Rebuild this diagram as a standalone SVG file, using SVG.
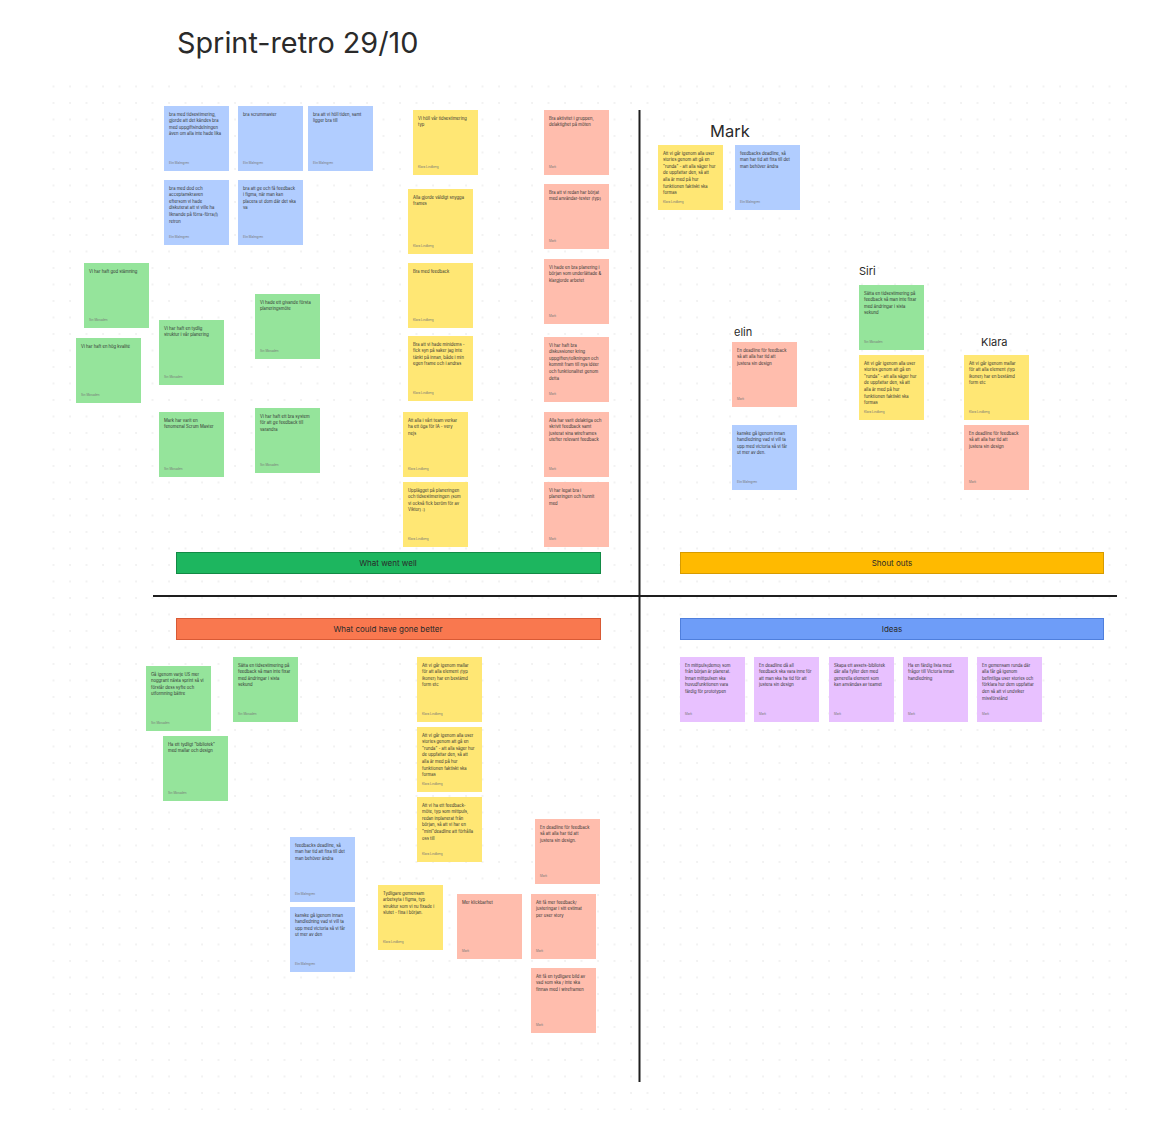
<svg xmlns="http://www.w3.org/2000/svg" width="1155" height="1121" viewBox="0 0 1155 1121">
<defs>
<pattern id="dots" x="3" y="3" width="16.5" height="16.5" patternUnits="userSpaceOnUse">
<circle cx="1" cy="1" r="0.7" fill="#dcdcdc"/>
</pattern>
</defs>
<style>
.b{fill:#B1CDFF}.g{fill:#95E49B}.y{fill:#FFE774}.s{fill:#FFBDAD}.p{fill:#E8C1FF}
.t{font-family:Inter,"Noto Sans",sans-serif;font-size:4.2px;fill:#333333}
.a{font-family:Inter,"Noto Sans",sans-serif;font-size:3px;fill:#777777}
.lbl{font-family:Inter,"Noto Sans",sans-serif;fill:#2a2a2a}
.bar{font-family:Inter,"Noto Sans",sans-serif;font-size:8px;fill:#2a2a2a;text-anchor:middle}
.div{stroke:#1e1e1e;stroke-width:2;fill:none}
</style>
<rect width="1155" height="1121" fill="#ffffff"/>
<rect x="40" y="80" width="1100" height="1030" fill="url(#dots)"/>

<text id="title" class="lbl" x="177" y="53" font-size="28.8">Sprint-retro 29/10</text>

<g id="dividers">
<line class="div" x1="639.5" y1="110" x2="639.5" y2="1082"/>
<line class="div" x1="153" y1="596" x2="1117" y2="596"/>
</g>

<g id="bar-went-well"><rect x="176.5" y="552.5" width="424" height="21" fill="#1DB65F" stroke="#128a45"/><text class="bar" x="388" y="566">What went well</text></g>
<g id="bar-shout-outs"><rect x="680.5" y="552.5" width="423" height="21" fill="#FFBA00" stroke="#d79b00"/><text class="bar" x="892" y="566">Shout outs</text></g>
<g id="bar-better"><rect x="176.5" y="618.5" width="424" height="21" fill="#F9784F" stroke="#d85a35"/><text class="bar" x="388" y="632">What could have gone better</text></g>
<g id="bar-ideas"><rect x="680.5" y="618.5" width="423" height="21" fill="#6E9DF8" stroke="#4f7fdc"/><text class="bar" x="892" y="632">Ideas</text></g>

<!-- What went well -->
<g id="ww-b1" transform="translate(164,106)"><rect class="b" width="65" height="65"/><text class="t" y="9.5"><tspan x="5">bra med tidsestimering,</tspan><tspan x="5" dy="6.6">gjorde att det kändes bra</tspan><tspan x="5" dy="6.6">med uppgiftsindelningen</tspan><tspan x="5" dy="6.6">även om alla inte hade lika</tspan></text><text class="a" x="5" y="57.5">Elin Malmgren</text></g>
<g id="ww-b2" transform="translate(238,106)"><rect class="b" width="65" height="65"/><text class="t" y="9.5"><tspan x="5">bra scrummaster</tspan></text><text class="a" x="5" y="57.5">Elin Malmgren</text></g>
<g id="ww-b3" transform="translate(308,106)"><rect class="b" width="65" height="65"/><text class="t" y="9.5"><tspan x="5">bra att vi höll tiden, samt</tspan><tspan x="5" dy="6.6">ligger bra till</tspan></text><text class="a" x="5" y="57.5">Elin Malmgren</text></g>
<g id="ww-b4" transform="translate(164,180)"><rect class="b" width="65" height="65"/><text class="t" y="9.5"><tspan x="5">bra med dod och</tspan><tspan x="5" dy="6.6">acceptanskraven</tspan><tspan x="5" dy="6.6">eftersom vi hade</tspan><tspan x="5" dy="6.6">diskuterat att vi ville ha</tspan><tspan x="5" dy="6.6">liknande på förra-förra(!)</tspan><tspan x="5" dy="6.6">retron</tspan></text><text class="a" x="5" y="57.5">Elin Malmgren</text></g>
<g id="ww-b5" transform="translate(238,180)"><rect class="b" width="65" height="65"/><text class="t" y="9.5"><tspan x="5">bra att ge och få feedback</tspan><tspan x="5" dy="6.6">i figma, när man kan</tspan><tspan x="5" dy="6.6">placera ut dom där det ska</tspan><tspan x="5" dy="6.6">va</tspan></text><text class="a" x="5" y="57.5">Elin Malmgren</text></g>

<g id="ww-g1" transform="translate(84,263)"><rect class="g" width="65" height="65"/><text class="t" y="9.5"><tspan x="5">Vi har haft god stämning</tspan></text><text class="a" x="5" y="57.5">Siri Mossdén</text></g>
<g id="ww-g2" transform="translate(76,338)"><rect class="g" width="65" height="65"/><text class="t" y="9.5"><tspan x="5">Vi har haft en hög kvalité</tspan></text><text class="a" x="5" y="57.5">Siri Mossdén</text></g>
<g id="ww-g3" transform="translate(159,320)"><rect class="g" width="65" height="65"/><text class="t" y="9.5"><tspan x="5">Vi har haft en tydlig</tspan><tspan x="5" dy="6.6">struktur i vår planering</tspan></text><text class="a" x="5" y="57.5">Siri Mossdén</text></g>
<g id="ww-g4" transform="translate(255,294)"><rect class="g" width="65" height="65"/><text class="t" y="9.5"><tspan x="5">Vi hade ett givande första</tspan><tspan x="5" dy="6.6">planeringsmöte</tspan></text><text class="a" x="5" y="57.5">Siri Mossdén</text></g>
<g id="ww-g5" transform="translate(159,412)"><rect class="g" width="65" height="65"/><text class="t" y="9.5"><tspan x="5">Mark har varit en</tspan><tspan x="5" dy="6.6">fenomenal Scrum Master</tspan></text><text class="a" x="5" y="57.5">Siri Mossdén</text></g>
<g id="ww-g6" transform="translate(255,408)"><rect class="g" width="65" height="65"/><text class="t" y="9.5"><tspan x="5">Vi har haft ett bra system</tspan><tspan x="5" dy="6.6">för att ge feedback till</tspan><tspan x="5" dy="6.6">varandra</tspan></text><text class="a" x="5" y="57.5">Siri Mossdén</text></g>

<g id="ww-y1" transform="translate(413,110)"><rect class="y" width="65" height="65"/><text class="t" y="9.5"><tspan x="5">Vi höll vår tidsestimering</tspan><tspan x="5" dy="6.6">typ</tspan></text><text class="a" x="5" y="57.5">Klara Lindberg</text></g>
<g id="ww-y2" transform="translate(408,189)"><rect class="y" width="65" height="65"/><text class="t" y="9.5"><tspan x="5">Alla gjorde väldigt snygga</tspan><tspan x="5" dy="6.6">frames</tspan></text><text class="a" x="5" y="57.5">Klara Lindberg</text></g>
<g id="ww-y3" transform="translate(408,263)"><rect class="y" width="65" height="65"/><text class="t" y="9.5"><tspan x="5">Bra med feedback</tspan></text><text class="a" x="5" y="57.5">Klara Lindberg</text></g>
<g id="ww-y4" transform="translate(408,336)"><rect class="y" width="65" height="65"/><text class="t" y="9.5"><tspan x="5">Bra att vi hade minidems -</tspan><tspan x="5" dy="6.6">fick syn på saker jag inte</tspan><tspan x="5" dy="6.6">tänkt på innan, både i min</tspan><tspan x="5" dy="6.6">egen frame och i andras</tspan></text><text class="a" x="5" y="57.5">Klara Lindberg</text></g>
<g id="ww-y5" transform="translate(403,412)"><rect class="y" width="65" height="65"/><text class="t" y="9.5"><tspan x="5">Att alla i vårt team verkar</tspan><tspan x="5" dy="6.6">ha ett öga för IA - very</tspan><tspan x="5" dy="6.6">nejs</tspan></text><text class="a" x="5" y="57.5">Klara Lindberg</text></g>
<g id="ww-y6" transform="translate(403,482)"><rect class="y" width="65" height="65"/><text class="t" y="9.5"><tspan x="5">Upplägget på planeringen</tspan><tspan x="5" dy="6.6">och tidsestimeringen (som</tspan><tspan x="5" dy="6.6">vi också fick beröm för av</tspan><tspan x="5" dy="6.6">Viktor) :)</tspan></text><text class="a" x="5" y="57.5">Klara Lindberg</text></g>

<g id="ww-s1" transform="translate(544,110)"><rect class="s" width="65" height="65"/><text class="t" y="9.5"><tspan x="5">Bra aktivitet i gruppen,</tspan><tspan x="5" dy="6.6">delaktighet på möten</tspan></text><text class="a" x="5" y="57.5">Mark</text></g>
<g id="ww-s2" transform="translate(544,184)"><rect class="s" width="65" height="65"/><text class="t" y="9.5"><tspan x="5">Bra att vi redan har börjat</tspan><tspan x="5" dy="6.6">med användar-tester (typ)</tspan></text><text class="a" x="5" y="57.5">Mark</text></g>
<g id="ww-s3" transform="translate(544,259)"><rect class="s" width="65" height="65"/><text class="t" y="9.5"><tspan x="5">Vi hade en bra planering i</tspan><tspan x="5" dy="6.6">början som underlättade &amp;</tspan><tspan x="5" dy="6.6">klargjorde arbetet</tspan></text><text class="a" x="5" y="57.5">Mark</text></g>
<g id="ww-s4" transform="translate(544,337)"><rect class="s" width="65" height="65"/><text class="t" y="9.5"><tspan x="5">Vi har haft bra</tspan><tspan x="5" dy="6.6">diskussioner kring</tspan><tspan x="5" dy="6.6">uppgiften/tolkningen och</tspan><tspan x="5" dy="6.6">kommit fram till nya idéer</tspan><tspan x="5" dy="6.6">och funktionalitet genom</tspan><tspan x="5" dy="6.6">detta</tspan></text><text class="a" x="5" y="57.5">Mark</text></g>
<g id="ww-s5" transform="translate(544,412)"><rect class="s" width="65" height="65"/><text class="t" y="9.5"><tspan x="5">Alla har varit delaktiga och</tspan><tspan x="5" dy="6.6">skrivit feedback samt</tspan><tspan x="5" dy="6.6">justerat sina wireframes</tspan><tspan x="5" dy="6.6">utefter relevant feedback</tspan></text><text class="a" x="5" y="57.5">Mark</text></g>
<g id="ww-s6" transform="translate(544,482)"><rect class="s" width="65" height="65"/><text class="t" y="9.5"><tspan x="5">Vi har legat bra i</tspan><tspan x="5" dy="6.6">planeringen och hunnit</tspan><tspan x="5" dy="6.6">med</tspan></text><text class="a" x="5" y="57.5">Mark</text></g>

<!-- Shout outs -->
<text id="label-mark" class="lbl" x="710" y="137" font-size="16.5">Mark</text>
<text id="label-siri" class="lbl" x="859" y="275" font-size="11">Siri</text>
<text id="label-elin" class="lbl" x="734" y="336" font-size="11">elin</text>
<text id="label-klara" class="lbl" x="981" y="346" font-size="11">Klara</text>

<g id="so-mark-y" transform="translate(658,145)"><rect class="y" width="65" height="65"/><text class="t" y="9.5"><tspan x="5">Att vi går igenom alla user</tspan><tspan x="5" dy="6.6">stories genom att gå en</tspan><tspan x="5" dy="6.6">&quot;runda&quot; - att alla säger hur</tspan><tspan x="5" dy="6.6">de uppfattar den,  så att</tspan><tspan x="5" dy="6.6">alla är med på hur</tspan><tspan x="5" dy="6.6">funktionen faktiskt ska</tspan><tspan x="5" dy="6.6">formas</tspan></text><text class="a" x="5" y="58">Klara Lindberg</text></g>
<g id="so-mark-b" transform="translate(735,145)"><rect class="b" width="65" height="65"/><text class="t" y="9.5"><tspan x="5">feedbacks deadline, så</tspan><tspan x="5" dy="6.6">man har tid att fixa till det</tspan><tspan x="5" dy="6.6">man behöver ändra</tspan></text><text class="a" x="5" y="58">Elin Malmgren</text></g>
<g id="so-siri-g" transform="translate(859,285)"><rect class="g" width="65" height="65"/><text class="t" y="9.5"><tspan x="5">Sätta en tidsestimering på</tspan><tspan x="5" dy="6.6">feedback så man inte fixar</tspan><tspan x="5" dy="6.6">med ändringar i sista</tspan><tspan x="5" dy="6.6">sekund</tspan></text><text class="a" x="5" y="58">Siri Mossdén</text></g>
<g id="so-siri-y" transform="translate(859,355)"><rect class="y" width="65" height="65"/><text class="t" y="9.5"><tspan x="5">Att vi går igenom alla user</tspan><tspan x="5" dy="6.6">stories genom att gå en</tspan><tspan x="5" dy="6.6">&quot;runda&quot; - att alla säger hur</tspan><tspan x="5" dy="6.6">de uppfattar den,  så att</tspan><tspan x="5" dy="6.6">alla är med på hur</tspan><tspan x="5" dy="6.6">funktionen faktiskt ska</tspan><tspan x="5" dy="6.6">formas</tspan></text><text class="a" x="5" y="58">Klara Lindberg</text></g>
<g id="so-elin-s" transform="translate(732,342)"><rect class="s" width="65" height="65"/><text class="t" y="9.5"><tspan x="5">En deadline för feedback</tspan><tspan x="5" dy="6.6">så att alla har tid att</tspan><tspan x="5" dy="6.6">justera sin design</tspan></text><text class="a" x="5" y="58">Mark</text></g>
<g id="so-elin-b" transform="translate(732,425)"><rect class="b" width="65" height="65"/><text class="t" y="9.5"><tspan x="5">kanske gå igenom innan</tspan><tspan x="5" dy="6.6">handledning vad vi vill ta</tspan><tspan x="5" dy="6.6">upp med victoria så vi får</tspan><tspan x="5" dy="6.6">ut mer av den.</tspan></text><text class="a" x="5" y="58">Elin Malmgren</text></g>
<g id="so-klara-y" transform="translate(964,355)"><rect class="y" width="65" height="65"/><text class="t" y="9.5"><tspan x="5">Att vi går igenom mallar</tspan><tspan x="5" dy="6.6">för att alla element (typ</tspan><tspan x="5" dy="6.6">ikoner) har en bestämd</tspan><tspan x="5" dy="6.6">form etc</tspan></text><text class="a" x="5" y="58">Klara Lindberg</text></g>
<g id="so-klara-s" transform="translate(964,425)"><rect class="s" width="65" height="65"/><text class="t" y="9.5"><tspan x="5">En deadline för feedback</tspan><tspan x="5" dy="6.6">så att alla har tid att</tspan><tspan x="5" dy="6.6">justera sin design</tspan></text><text class="a" x="5" y="58">Mark</text></g>

<!-- What could have gone better -->
<g id="cb-g1" transform="translate(146,666)"><rect class="g" width="65" height="65"/><text class="t" y="9.5"><tspan x="5">Gå igenom varje US mer</tspan><tspan x="5" dy="6.6">noggrant nästa sprint så vi</tspan><tspan x="5" dy="6.6">förstår dess syfte och</tspan><tspan x="5" dy="6.6">utformning bättre</tspan></text><text class="a" x="5" y="57.5">Siri Mossdén</text></g>
<g id="cb-g2" transform="translate(233,657)"><rect class="g" width="65" height="65"/><text class="t" y="9.5"><tspan x="5">Sätta en tidsestimering på</tspan><tspan x="5" dy="6.6">feedback så man inte fixar</tspan><tspan x="5" dy="6.6">med ändringar i sista</tspan><tspan x="5" dy="6.6">sekund</tspan></text><text class="a" x="5" y="57.5">Siri Mossdén</text></g>
<g id="cb-g3" transform="translate(163,736)"><rect class="g" width="65" height="65"/><text class="t" y="9.5"><tspan x="5">Ha ett tydligt &quot;bibliotek&quot;</tspan><tspan x="5" dy="6.6">med mallar och design</tspan></text><text class="a" x="5" y="57.5">Siri Mossdén</text></g>
<g id="cb-y1" transform="translate(417,657)"><rect class="y" width="65" height="65"/><text class="t" y="9.5"><tspan x="5">Att vi går igenom mallar</tspan><tspan x="5" dy="6.6">för att alla element (typ</tspan><tspan x="5" dy="6.6">ikoner) har en bestämd</tspan><tspan x="5" dy="6.6">form etc</tspan></text><text class="a" x="5" y="57.5">Klara Lindberg</text></g>
<g id="cb-y2" transform="translate(417,727)"><rect class="y" width="65" height="65"/><text class="t" y="9.5"><tspan x="5">Att vi går igenom alla user</tspan><tspan x="5" dy="6.6">stories genom att gå en</tspan><tspan x="5" dy="6.6">&quot;runda&quot; - att alla säger hur</tspan><tspan x="5" dy="6.6">de uppfattar den,  så att</tspan><tspan x="5" dy="6.6">alla är med på hur</tspan><tspan x="5" dy="6.6">funktionen faktiskt ska</tspan><tspan x="5" dy="6.6">formas</tspan></text><text class="a" x="5" y="58">Klara Lindberg</text></g>
<g id="cb-y3" transform="translate(417,797)"><rect class="y" width="65" height="65"/><text class="t" y="9.5"><tspan x="5">Att vi ha ett feedback-</tspan><tspan x="5" dy="6.6">möte, typ som mittpuls,</tspan><tspan x="5" dy="6.6">redan inplanerat från</tspan><tspan x="5" dy="6.6">början, så att vi har en</tspan><tspan x="5" dy="6.6">&quot;mini&quot;deadline att förhålla</tspan><tspan x="5" dy="6.6">oss till</tspan></text><text class="a" x="5" y="58">Klara Lindberg</text></g>
<g id="cb-b1" transform="translate(290,837)"><rect class="b" width="65" height="65"/><text class="t" y="9.5"><tspan x="5">feedbacks deadline, så</tspan><tspan x="5" dy="6.6">man har tid att fixa till det</tspan><tspan x="5" dy="6.6">man behöver ändra</tspan></text><text class="a" x="5" y="57.5">Elin Malmgren</text></g>
<g id="cb-b2" transform="translate(290,907)"><rect class="b" width="65" height="65"/><text class="t" y="9.5"><tspan x="5">kanske gå igenom innan</tspan><tspan x="5" dy="6.6">handledning vad vi vill ta</tspan><tspan x="5" dy="6.6">upp med victoria så vi får</tspan><tspan x="5" dy="6.6">ut mer av den</tspan></text><text class="a" x="5" y="57.5">Elin Malmgren</text></g>
<g id="cb-y4" transform="translate(378,885)"><rect class="y" width="65" height="65"/><text class="t" y="9.5"><tspan x="5">Tydligare gemensam</tspan><tspan x="5" dy="6.6">arbetsyta i figma, typ</tspan><tspan x="5" dy="6.6">struktur som vi nu fixade i</tspan><tspan x="5" dy="6.6">slutet - fixa i början.</tspan></text><text class="a" x="5" y="57.5">Klara Lindberg</text></g>
<g id="cb-s1" transform="translate(535,819)"><rect class="s" width="65" height="65"/><text class="t" y="9.5"><tspan x="5">En deadline för feedback</tspan><tspan x="5" dy="6.6">så att alla har tid att</tspan><tspan x="5" dy="6.6">justera sin design.</tspan></text><text class="a" x="5" y="57.5">Mark</text></g>
<g id="cb-s2" transform="translate(457,894)"><rect class="s" width="65" height="65"/><text class="t" y="9.5"><tspan x="5">Mer klickbarhet</tspan></text><text class="a" x="5" y="57.5">Mark</text></g>
<g id="cb-s3" transform="translate(531,894)"><rect class="s" width="65" height="65"/><text class="t" y="9.5"><tspan x="5">Att få mer feedback/</tspan><tspan x="5" dy="6.6">justeringar i sitt estimat</tspan><tspan x="5" dy="6.6">per user story</tspan></text><text class="a" x="5" y="57.5">Mark</text></g>
<g id="cb-s4" transform="translate(531,968)"><rect class="s" width="65" height="65"/><text class="t" y="9.5"><tspan x="5">Att få en tydligare bild av</tspan><tspan x="5" dy="6.6">vad som ska / inte ska</tspan><tspan x="5" dy="6.6">finnas med i wireframen</tspan></text><text class="a" x="5" y="57.5">Mark</text></g>

<!-- Ideas -->
<g id="id-p1" transform="translate(680,657)"><rect class="p" width="65" height="65"/><text class="t" y="9.5"><tspan x="5">En mittpuls(demo) som</tspan><tspan x="5" dy="6.6">från början är planerat.</tspan><tspan x="5" dy="6.6">Innan mittpulsen ska</tspan><tspan x="5" dy="6.6">huvudfunktionen vara</tspan><tspan x="5" dy="6.6">färdig för prototypen</tspan></text><text class="a" x="5" y="58">Mark</text></g>
<g id="id-p2" transform="translate(754,657)"><rect class="p" width="65" height="65"/><text class="t" y="9.5"><tspan x="5">En deadline då all</tspan><tspan x="5" dy="6.6">feedback ska vara inne för</tspan><tspan x="5" dy="6.6">att man ska ha tid för att</tspan><tspan x="5" dy="6.6">justera sin design</tspan></text><text class="a" x="5" y="58">Mark</text></g>
<g id="id-p3" transform="translate(829,657)"><rect class="p" width="65" height="65"/><text class="t" y="9.5"><tspan x="5">Skapa ett assets-bibliotek</tspan><tspan x="5" dy="6.6">där alla fyller den med</tspan><tspan x="5" dy="6.6">generella element som</tspan><tspan x="5" dy="6.6">kan användas av teamet</tspan></text><text class="a" x="5" y="58">Mark</text></g>
<g id="id-p4" transform="translate(903,657)"><rect class="p" width="65" height="65"/><text class="t" y="9.5"><tspan x="5">Ha en färdig lista med</tspan><tspan x="5" dy="6.6">frågor till Victoria innan</tspan><tspan x="5" dy="6.6">handledning</tspan></text><text class="a" x="5" y="58">Mark</text></g>
<g id="id-p5" transform="translate(977,657)"><rect class="p" width="65" height="65"/><text class="t" y="9.5"><tspan x="5">En gemensam runda där</tspan><tspan x="5" dy="6.6">alla får gå igenom</tspan><tspan x="5" dy="6.6">befintliga user stories och</tspan><tspan x="5" dy="6.6">förklara hur dem uppfattar</tspan><tspan x="5" dy="6.6">den så att vi undviker</tspan><tspan x="5" dy="6.6">missförstånd</tspan></text><text class="a" x="5" y="58">Mark</text></g>
</svg>
